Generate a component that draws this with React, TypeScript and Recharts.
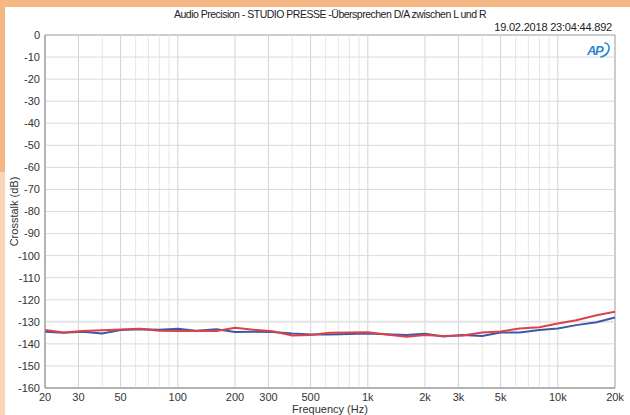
import React from "react";
import {
  LineChart,
  Line,
  XAxis,
  YAxis,
  ReferenceLine,
  ReferenceArea,
  Label,
} from "recharts";

// Measurement frequencies (Hz)
const frequencies = [
  20, 25, 31.5, 40, 50, 63, 80, 100, 125, 160, 200, 250, 315, 400, 500, 630,
  800, 1000, 1250, 1600, 2000, 2500, 3150, 4000, 5000, 6300, 8000, 10000,
  12500, 16000, 20000,
];

// Crosstalk L -> R (dB)
const crosstalkLtoR = [
  -134.5, -135.0, -134.5, -135.3, -133.7, -133.4, -133.6, -133.1, -134.0,
  -133.4, -134.6, -134.5, -134.6, -135.3, -135.7, -135.7, -135.5, -135.3,
  -135.6, -136.0, -135.4, -136.7, -136.0, -136.4, -134.8, -134.8, -133.7,
  -133.0, -131.5, -130.2, -128.0,
];

// Crosstalk R -> L (dB)
const crosstalkRtoL = [
  -133.7, -134.8, -134.2, -133.8, -133.5, -133.1, -134.1, -134.2, -134.2,
  -134.2, -132.7, -133.6, -134.3, -136.2, -136.0, -135.0, -134.8, -134.7,
  -135.8, -136.8, -136.0, -136.4, -136.2, -134.8, -134.4, -133.0, -132.5,
  -130.8, -129.3, -127.0, -125.4,
];

const xTicks = [20, 30, 50, 100, 200, 300, 500, 1000, 2000, 3000, 5000, 10000, 20000];
const xMinorGrid = [
  40, 60, 70, 80, 90, 400, 600, 700, 800, 900, 4000, 6000, 7000, 8000, 9000,
];
const yTicks = [0, -10, -20, -30, -40, -50, -60, -70, -80, -90, -100, -110, -120, -130, -140, -150, -160];

const titleText = "Audio Precision - STUDIO PRESSE -Übersprechen D/A zwischen L und R";
const stampText = "19.02.2018 23:04:44.892";
const xAxisTitle = "Frequency (Hz)";
const yAxisTitle = "Crosstalk (dB)";

const data = frequencies.map((f, i) => ({
  f,
  lr: crosstalkLtoR[i],
  rl: crosstalkRtoL[i],
}));

const fmtFreq = (v: number) => (v >= 1000 ? `${v / 1000}k` : `${v}`);

const FONT = "'Liberation Sans', Arial, sans-serif";

export default function App() {
  return (
    <div
      style={{
        position: "absolute",
        left: 0,
        top: 0,
        width: 630,
        height: 415,
        overflow: "hidden",
        background: "#ffffff",
        fontFamily: FONT,
      }}
    >
      {/* window frame */}
      <div style={{ position: "absolute", left: 0, top: 0, width: 630, height: 7, background: "#f5b783" }} />
      <div style={{ position: "absolute", left: 0, top: 7, width: 5, height: 165, background: "#f5b783" }} />
      <div style={{ position: "absolute", left: 0, top: 172, width: 5, height: 243, background: "#fbd5b6" }} />

      <div
        style={{
          position: "absolute",
          left: 45,
          top: 8,
          width: 570,
          textAlign: "center",
          fontSize: 10.5,
          color: "#222",
          letterSpacing: -0.5,
          whiteSpace: "nowrap",
        }}
      >
        {titleText}
      </div>
      <div
        style={{
          position: "absolute",
          right: 18,
          top: 21,
          fontSize: 11,
          color: "#222",
          letterSpacing: -0.2,
        }}
      >
        {stampText}
      </div>

      <div style={{ position: "absolute", left: 0, top: 0 }}>
        <LineChart
          width={630}
          height={415}
          data={data}
          margin={{ top: 35, right: 15, bottom: 0, left: 0 }}
        >
          <XAxis
            dataKey="f"
            type="number"
            scale="log"
            domain={[20, 20000]}
            ticks={xTicks}
            tickFormatter={fmtFreq}
            allowDataOverflow
            height={27}
            tickLine={false}
            tickSize={0}
            axisLine={{ stroke: "#9a9a9a" }}
            tickMargin={5}
            tick={{ fontSize: 11, fill: "#333", fontFamily: FONT }}
            interval={0}
          >
            <Label
              value={xAxisTitle}
              position="insideBottom"
              offset={2}
              style={{ fontSize: 11, fill: "#333", fontFamily: FONT }}
            />
          </XAxis>
          <YAxis
            type="number"
            domain={[-160, 0]}
            ticks={yTicks}
            interval={0}
            width={45}
            tickLine={false}
            tickSize={0}
            axisLine={{ stroke: "#9a9a9a" }}
            tickMargin={5}
            tick={{ fontSize: 11, fill: "#333", fontFamily: FONT }}
          >
            <Label
              value={yAxisTitle}
              angle={-90}
              position="insideLeft"
              offset={14}
              style={{ fontSize: 11, fill: "#333", fontFamily: FONT, textAnchor: "middle" }}
            />
          </YAxis>

          {xMinorGrid.map((v) => (
            <ReferenceLine key={`xm${v}`} x={v} stroke="#e6e6e6" strokeWidth={1} />
          ))}
          {xTicks.slice(1, -1).map((v) => (
            <ReferenceLine key={`xt${v}`} x={v} stroke="#d3d3d3" strokeWidth={1} />
          ))}
          {yTicks.slice(1, -1).map((v) => (
            <ReferenceLine
              key={`y${v}`}
              y={v}
              stroke={v === -130 ? "#e4e4e4" : "#dadada"}
              strokeWidth={v === -130 ? 2 : 1}
            />
          ))}
          <ReferenceArea
            x1={20}
            x2={20000}
            y1={-160}
            y2={0}
            fill="none"
            stroke="#9a9a9a"
            strokeWidth={1}
          />

          <Line
            dataKey="lr"
            stroke="#3d59a6"
            strokeWidth={2}
            dot={false}
            isAnimationActive={false}
            type="linear"
          />
          <Line
            dataKey="rl"
            stroke="#db4249"
            strokeWidth={2}
            dot={false}
            isAnimationActive={false}
            type="linear"
          />
        </LineChart>
      </div>

      {/* AP badge */}
      <svg
        style={{ position: "absolute", left: 584, top: 40 }}
        width={28}
        height={20}
        viewBox="0 0 28 20"
      >
        <path
          d="M21 3 C 27 4, 27 14, 17 17"
          fill="none"
          stroke="#2e86d0"
          strokeWidth={1.6}
          strokeLinecap="round"
        />
        <text
          x={3}
          y={15}
          fontSize={13}
          fontWeight="bold"
          fontStyle="italic"
          fill="#2e86d0"
          fontFamily={FONT}
          letterSpacing={-1.5}
        >
          AP
        </text>
      </svg>
    </div>
  );
}
